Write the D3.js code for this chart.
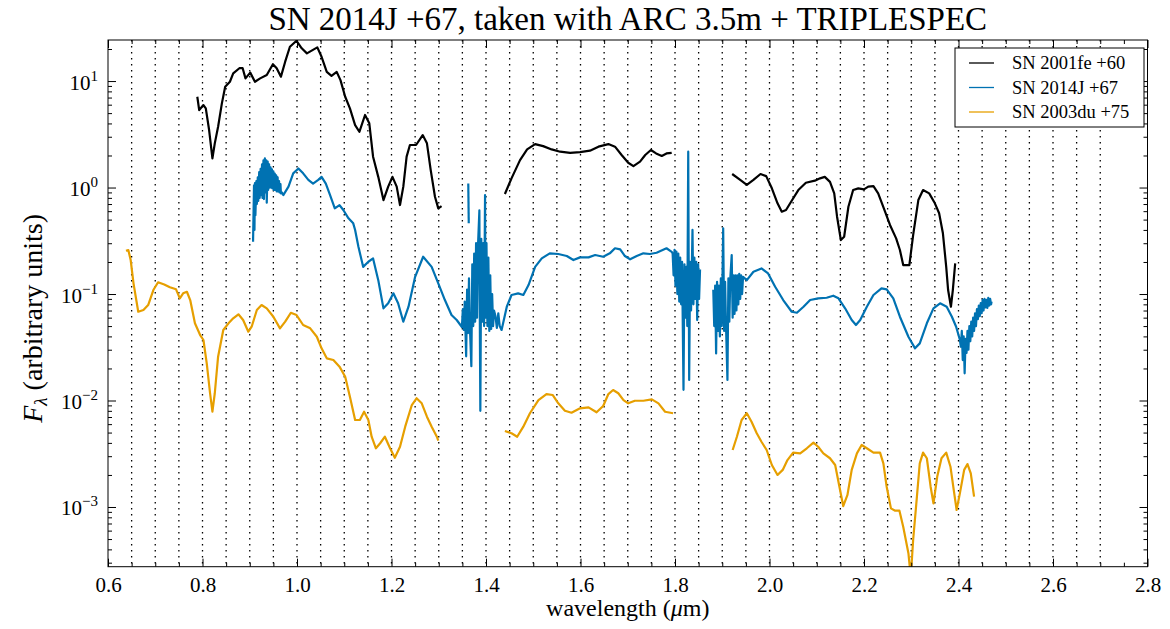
<!DOCTYPE html>
<html>
<head>
<meta charset="utf-8">
<script src="https://cdn.jsdelivr.net/npm/d3@7"></script>
<style>
  body { margin: 0; background: #fff; }
  svg { display: block; font-family: "Liberation Serif", "DejaVu Serif", serif; }
</style>
</head>
<body>
<svg id="chart" width="1170" height="629"></svg>
<script>
// ---- Spectra: [wavelength (um), F_lambda (arbitrary units)], one array per continuous segment ----
const sn2001fe = [
  [[0.789,7.12],[0.793,5.34],[0.802,5.95],[0.807,5.54],[0.814,3.47],[0.821,1.88],[0.826,2.60],[0.833,3.72],
   [0.841,6.17],[0.848,8.84],[0.858,9.85],[0.865,11.8],[0.878,13.2],[0.885,13.2],[0.891,10.6],[0.901,12.0],
   [0.911,9.85],[0.922,10.6],[0.936,11.4],[0.949,14.4],[0.957,13.2],[0.966,11.0],[0.975,15.2],[0.985,21.0],
   [0.999,23.9],[1.010,20.3],[1.021,18.2],[1.031,19.3],[1.043,20.7],[1.052,16.9],[1.063,12.2],[1.073,11.2],
   [1.084,12.2],[1.092,10.2],[1.102,7.12],[1.112,5.54],[1.123,3.86],[1.132,3.34],[1.144,4.80],[1.153,4.01],
   [1.161,1.95],[1.172,1.26],[1.183,0.763],[1.193,1.02],[1.202,1.26],[1.211,1.02],[1.218,0.685],[1.225,1.02],
   [1.232,1.95],[1.239,2.51],[1.252,2.51],[1.266,3.11],[1.275,2.60],[1.283,1.46],[1.292,0.820],[1.299,0.638],
   [1.306,0.670]],
  [[1.440,0.869],[1.454,1.22],[1.472,1.81],[1.487,2.28],[1.504,2.56],[1.521,2.45],[1.539,2.28],[1.557,2.17],
   [1.578,2.12],[1.599,2.15],[1.620,2.22],[1.638,2.42],[1.659,2.56],[1.673,2.42],[1.687,2.02],[1.701,1.71],
   [1.712,1.59],[1.726,1.75],[1.737,2.02],[1.749,2.25],[1.760,2.09],[1.772,1.98],[1.782,2.09],[1.793,2.12]],
  [[1.921,1.34],[1.938,1.18],[1.952,1.06],[1.966,1.18],[1.981,1.34],[1.993,1.28],[2.005,0.983],[2.017,0.711],
   [2.026,0.593],[2.035,0.615],[2.047,0.752],[2.061,0.947],[2.077,1.11],[2.096,1.16],[2.107,1.22],[2.117,1.26],
   [2.128,1.13],[2.137,0.882],[2.143,0.532],[2.151,0.321],[2.158,0.345],[2.167,0.660],[2.177,0.947],[2.188,0.983],
   [2.200,0.962],[2.209,1.02],[2.220,1.03],[2.230,0.882],[2.242,0.638],[2.255,0.445],[2.268,0.333],[2.276,0.259],
   [2.283,0.187],[2.296,0.187],[2.304,0.358],[2.315,0.763],[2.325,0.947],[2.338,0.882],[2.350,0.711],[2.359,0.573],
   [2.367,0.372],[2.374,0.180],[2.378,0.109],[2.384,0.076],[2.388,0.109],[2.393,0.194]]
];

const sn2014j = [
  [[0.907,0.31],[0.909,1.05],[0.910,0.40],[0.911,1.10],[0.912,0.55],[0.914,1.15],[0.915,0.70],[0.917,1.25],
   [0.918,0.75],[0.920,1.40],[0.921,0.80],[0.923,1.50],[0.924,0.85],[0.926,1.65],[0.927,0.80],[0.929,1.80],
   [0.930,0.78],[0.932,1.88],[0.933,0.90],[0.935,1.80],[0.936,0.72],[0.938,1.75],[0.939,0.95],[0.941,1.65],
   [0.942,1.00],[0.944,1.55],[0.945,1.00],[0.947,1.48],[0.948,0.98],[0.950,1.42],[0.951,0.95],[0.953,1.35],
   [0.954,0.95],[0.956,1.30],[0.957,0.92],[0.959,1.25],[0.960,0.92],[0.962,1.15],[0.963,0.90],[0.965,1.08],
   [0.966,0.88],[0.968,0.90],
   [0.971,0.850],[0.982,1.02],[0.992,1.36],[1.003,1.51],[1.013,1.36],[1.024,1.18],[1.034,1.09],[1.045,1.18],
   [1.052,1.26],[1.061,1.09],[1.070,0.850],[1.080,0.638],[1.090,0.685],[1.098,0.615],[1.109,0.514],[1.119,0.461],
   [1.123,0.399],[1.130,0.278],[1.140,0.180],[1.151,0.201],[1.161,0.216],[1.172,0.135],[1.183,0.0734],[1.193,0.0818],
   [1.204,0.1015],[1.214,0.0818],[1.225,0.055],[1.236,0.076],[1.250,0.145],[1.267,0.224],[1.285,0.180],[1.299,0.126],
   [1.313,0.0878],[1.327,0.0635],[1.338,0.057],
   [1.349,0.049],[1.351,0.072],[1.353,0.046],[1.355,0.085],[1.358,0.026],[1.360,0.11],[1.362,0.043],[1.364,0.14],
   [1.366,0.048],[1.369,0.021],[1.371,0.19],[1.373,0.05],[1.375,0.24],[1.377,0.055],[1.379,0.30],[1.381,0.06],
   [1.383,0.28],[1.386,0.61],[1.387,0.05],[1.388,0.008],[1.390,0.33],[1.392,0.055],[1.394,0.30],[1.396,0.05],
   [1.398,0.85],[1.399,0.06],[1.401,0.30],[1.403,0.05],[1.405,0.22],[1.407,0.045],[1.409,0.15],[1.411,0.047],
   [1.413,0.10],[1.415,0.05],[1.417,0.07],[1.420,0.062],[1.423,0.048],[1.426,0.066],[1.429,0.05],[1.433,0.046],
   [1.444,0.076],[1.454,0.0979],[1.468,0.1015],[1.479,0.098],[1.490,0.1215],[1.504,0.180],[1.518,0.216],[1.535,0.241],
   [1.553,0.2375],[1.571,0.2275],[1.585,0.2085],[1.599,0.221],[1.617,0.221],[1.631,0.2324],[1.648,0.224],[1.662,0.241],
   [1.673,0.269],[1.684,0.263],[1.694,0.2275],[1.705,0.212],[1.719,0.2275],[1.733,0.241],[1.747,0.2375],[1.761,0.244],
   [1.782,0.269],[1.793,0.249],
   [1.795,0.24],[1.797,0.15],[1.799,0.26],[1.801,0.12],[1.803,0.25],[1.805,0.10],[1.807,0.24],[1.809,0.085],
   [1.811,0.22],[1.813,0.08],[1.815,0.20],[1.818,0.0126],[1.820,0.19],[1.822,0.06],[1.824,0.18],[1.826,0.05],
   [1.828,2.17],[1.830,0.0156],[1.832,0.20],[1.834,0.07],[1.837,0.40],[1.839,0.08],[1.841,0.22],[1.843,0.09],
   [1.845,0.20],[1.847,0.057],[1.849,0.19],[1.851,0.09],[1.853,0.17]],
  [[1.3625,1.09],[1.3635,0.461]],
  [[1.881,0.11],[1.883,0.05],[1.885,0.12],[1.887,0.0277],[1.889,0.13],[1.891,0.045],[1.893,0.12],[1.895,0.04],
   [1.897,0.14],[1.899,0.05],[1.902,0.414],[1.904,0.045],[1.906,0.13],[1.908,0.05],[1.911,0.0156],[1.913,0.14],
   [1.915,0.055],[1.917,0.14],[1.920,0.232],[1.922,0.06],[1.924,0.15],[1.926,0.065],[1.928,0.15],[1.930,0.07],
   [1.932,0.15],[1.934,0.08],[1.936,0.155],[1.938,0.09],[1.940,0.15],[1.942,0.10],[1.944,0.145],
   [1.952,0.135],[1.966,0.162],[1.983,0.174],[1.997,0.156],[2.012,0.117],[2.029,0.0878],[2.047,0.0682],[2.058,0.0667],
   [2.072,0.076],[2.086,0.0878],[2.103,0.0911],[2.121,0.0923],[2.135,0.0964],[2.146,0.0911],[2.160,0.0734],[2.174,0.057],
   [2.183,0.0512],[2.192,0.057],[2.206,0.076],[2.220,0.0979],[2.237,0.113],[2.248,0.1107],[2.262,0.0911],[2.276,0.0612],
   [2.294,0.0397],[2.308,0.0309],[2.318,0.0344],[2.333,0.0531],[2.347,0.0734],[2.361,0.0818],[2.375,0.076],[2.386,0.0612],
   [2.395,0.0493],[2.403,0.037],
   [2.405,0.032],[2.407,0.045],[2.409,0.024],[2.411,0.040],[2.413,0.018],[2.415,0.038],[2.417,0.028],[2.419,0.045],
   [2.421,0.030],[2.423,0.050],[2.425,0.036],[2.427,0.055],[2.429,0.040],[2.431,0.060],[2.433,0.045],[2.435,0.066],
   [2.437,0.050],[2.439,0.072],[2.441,0.058],[2.443,0.078],[2.445,0.062],[2.447,0.082],[2.449,0.066],[2.451,0.088],
   [2.453,0.070],[2.455,0.090],[2.457,0.075],[2.459,0.088],[2.461,0.074],[2.463,0.092],[2.465,0.078],[2.467,0.090],
   [2.469,0.080],[2.470,0.085]]
];

const sn2003du = [
  [[0.638,0.255],[0.643,0.259],[0.648,0.2085],[0.654,0.126],[0.664,0.0682],[0.675,0.0708],[0.685,0.0788],[0.696,0.109],
   [0.706,0.129],[0.719,0.123],[0.731,0.1156],[0.744,0.1107],[0.752,0.0911],[0.759,0.1015],[0.767,0.105],[0.774,0.0878],
   [0.784,0.0531],[0.795,0.0412],[0.802,0.037],[0.809,0.0223],[0.816,0.0117],[0.821,0.00785],[0.826,0.0117],[0.833,0.0258],
   [0.844,0.0459],[0.855,0.0531],[0.865,0.0591],[0.876,0.0645],[0.886,0.057],[0.897,0.0443],[0.904,0.0493],[0.915,0.0708],
   [0.925,0.0788],[0.936,0.0734],[0.950,0.0612],[0.964,0.0476],[0.975,0.055],[0.987,0.0667],[0.999,0.0635],[1.013,0.0512],
   [1.028,0.0476],[1.042,0.0397],[1.052,0.0309],[1.063,0.0249],[1.077,0.024],[1.090,0.0208],[1.102,0.0167],[1.112,0.01085],
   [1.123,0.00656],[1.133,0.00656],[1.142,0.00785],[1.151,0.00656],[1.158,0.00457],[1.167,0.00356],[1.176,0.00397],[1.186,0.00457],
   [1.197,0.00356],[1.207,0.0029],[1.218,0.00368],[1.229,0.00568],[1.243,0.00907],[1.253,0.0105],[1.264,0.00941],[1.275,0.00705],
   [1.285,0.00568],[1.296,0.00457],[1.299,0.0042]],
  [[1.440,0.00517],[1.454,0.00492],[1.466,0.00457],[1.479,0.00568],[1.493,0.00759],[1.511,0.0101],[1.528,0.0115],[1.541,0.01127],
   [1.553,0.00941],[1.567,0.00802],[1.581,0.00768],[1.599,0.00845],[1.617,0.00863],[1.634,0.00775],[1.648,0.00888],[1.659,0.0115],
   [1.669,0.01255],[1.680,0.0117],[1.691,0.0101],[1.701,0.00941],[1.715,0.00995],[1.733,0.00995],[1.751,0.01026],[1.765,0.00941],
   [1.779,0.00785],[1.796,0.00759]],
  [[1.922,0.00343],[1.931,0.00457],[1.941,0.00656],[1.952,0.00759],[1.962,0.00632],[1.973,0.00492],[1.983,0.0041],[1.994,0.00343],
   [2.005,0.00248],[2.017,0.0020],[2.028,0.00223],[2.038,0.00276],[2.050,0.00324],[2.065,0.00319],[2.079,0.00356],[2.093,0.00402],
   [2.103,0.00368],[2.114,0.00319],[2.128,0.00287],[2.139,0.00248],[2.148,0.00155],[2.156,0.00102],[2.165,0.0013],[2.174,0.00223],
   [2.185,0.00319],[2.195,0.00382],[2.206,0.00356],[2.220,0.00324],[2.234,0.00324],[2.241,0.00257],[2.248,0.00155],[2.257,0.00097],
   [2.266,0.000923],[2.275,0.000923],[2.283,0.000653],[2.294,0.000368],[2.299,0.00022],[2.304,0.00049],[2.312,0.00125],[2.318,0.00257],
   [2.325,0.00324],[2.333,0.00287],[2.341,0.00155],[2.347,0.00108],[2.355,0.00193],[2.364,0.00287],[2.374,0.00324],[2.383,0.00239],
   [2.390,0.00144],[2.396,0.000937],[2.403,0.00135],[2.412,0.00223],[2.419,0.00253],[2.426,0.00207],[2.433,0.00125]]
];

// ---- Series, labels and ticks ----
const seriesNames  = ["SN 2001fe +60", "SN 2014J +67", "SN 2003du +75"];
const seriesColors = ["#000000", "#0072b2", "#e69f00"];
const seriesData   = [sn2001fe, sn2014j, sn2003du];

const xMajorTicks = [0.6, 0.8, 1.0, 1.2, 1.4, 1.6, 1.8, 2.0, 2.2, 2.4, 2.6, 2.8];
const yMajorTicks = [1e-3, 1e-2, 1e-1, 1e0, 1e1];
const yTickExponents = ["\u22123", "\u22122", "\u22121", "0", "1"];
const xDomain = [0.6, 2.8];
const yDomain = [2.75e-4, 24.3];

const titleText = "SN 2014J +67, taken with ARC 3.5m + TRIPLESPEC";

// ---- Layout ----
const W = 1170, H = 629;
const margin = { top: 40, right: 22.5, bottom: 62.3, left: 108 };
const innerW = W - margin.left - margin.right;
const innerH = H - margin.top - margin.bottom;

const svg = d3.select("#chart");
const g = svg.append("g").attr("transform", `translate(${margin.left},${margin.top})`);

const x = d3.scaleLinear().domain(xDomain).range([0, innerW]);
const y = d3.scaleLog().domain(yDomain).range([innerH, 0]);

// dotted vertical reference lines every 0.05 um
const markerLines = d3.range(0.65, 2.7001, 0.05);
g.append("g").selectAll("line").data(markerLines).join("line")
  .attr("x1", d => x(d)).attr("x2", d => x(d))
  .attr("y1", 0).attr("y2", innerH)
  .attr("stroke", "#000").attr("stroke-width", 1.3)
  .attr("stroke-dasharray", "1.5,4.5");

// spectra
g.append("clipPath").attr("id", "plotClip")
  .append("rect").attr("width", innerW).attr("height", innerH);

const line = d3.line().x(d => x(d[0])).y(d => y(d[1]));
const spectra = g.append("g").attr("clip-path", "url(#plotClip)");
seriesData.forEach((segments, i) => {
  spectra.append("g").selectAll("path").data(segments).join("path")
    .attr("d", line)
    .attr("fill", "none")
    .attr("stroke", seriesColors[i])
    .attr("stroke-width", 2.2)
    .attr("stroke-linejoin", "round");
});

// ---- Axes: inward ticks on all four sides ----
const xMinorTicks = d3.range(0.6, 2.8001, 0.05).filter(v => Math.abs(v / 0.2 - Math.round(v / 0.2)) > 1e-6);
const yAllTicks = y.ticks();
const yMinorTicks = yAllTicks.filter(v => Math.abs(Math.log10(v) - Math.round(Math.log10(v))) > 1e-6);

function styleAxis(sel) {
  sel.select(".domain").remove();
  sel.selectAll(".tick line").attr("stroke", "#000").attr("stroke-width", 1);
}

g.append("g").attr("transform", `translate(0,${innerH})`)
  .call(d3.axisBottom(x).tickValues(xMinorTicks).tickSize(-4).tickFormat("")).call(styleAxis);
g.append("g").attr("transform", `translate(0,${innerH})`)
  .call(d3.axisBottom(x).tickValues(xMajorTicks).tickSize(-8).tickFormat(d3.format(".1f")))
  .call(styleAxis)
  .call(a => a.selectAll(".tick text")
    .attr("y", 25).attr("dy", 0)
    .attr("font-size", 21).attr("font-family", "Liberation Serif").attr("fill", "#000"));
g.append("g")
  .call(d3.axisTop(x).tickValues(xMinorTicks).tickSize(-4).tickFormat("")).call(styleAxis);
g.append("g")
  .call(d3.axisTop(x).tickValues(xMajorTicks).tickSize(-8).tickFormat("")).call(styleAxis);

g.append("g").call(d3.axisLeft(y).tickValues(yMinorTicks).tickSize(-4).tickFormat("")).call(styleAxis);
const yMajor = g.append("g").call(d3.axisLeft(y).tickValues(yMajorTicks).tickSize(-8).tickFormat("")).call(styleAxis);
g.append("g").attr("transform", `translate(${innerW},0)`)
  .call(d3.axisRight(y).tickValues(yMinorTicks).tickSize(-4).tickFormat("")).call(styleAxis);
g.append("g").attr("transform", `translate(${innerW},0)`)
  .call(d3.axisRight(y).tickValues(yMajorTicks).tickSize(-8).tickFormat("")).call(styleAxis);

// decade labels 10^k
yMajor.selectAll(".tick").each(function(d) {
  const t = d3.select(this).append("text")
    .attr("x", -10).attr("y", 8)
    .attr("text-anchor", "end")
    .attr("font-size", 21).attr("fill", "#000")
    .attr("font-family", "Liberation Serif");
  t.append("tspan").text("10");
  t.append("tspan").attr("dy", -9).attr("font-size", 15).text(yTickExponents[yMajorTicks.indexOf(d)]);
});

// frame
g.append("rect").attr("width", innerW).attr("height", innerH)
  .attr("fill", "none").attr("stroke", "#000").attr("stroke-width", 1);

// ---- Text ----
svg.append("text")
  .attr("x", margin.left + innerW / 2).attr("y", 30)
  .attr("text-anchor", "middle").attr("font-size", 33).attr("fill", "#000")
  .text(titleText);

const xl = svg.append("text")
  .attr("x", margin.left + innerW / 2).attr("y", 616)
  .attr("text-anchor", "middle").attr("font-size", 24).attr("fill", "#000");
xl.append("tspan").text("wavelength (");
xl.append("tspan").attr("font-style", "italic").text("\u03bc");
xl.append("tspan").text("m)");

const yl = svg.append("text")
  .attr("transform", `translate(42,${margin.top + innerH / 2 + 15}) rotate(-90)`)
  .attr("text-anchor", "middle").attr("font-size", 28).attr("fill", "#000");
yl.append("tspan").attr("font-style", "italic").text("F");
yl.append("tspan").attr("font-style", "italic").attr("font-size", 19).attr("dy", 5).text("\u03bb");
yl.append("tspan").attr("dy", -5).text(" (arbitrary units)");

// ---- Legend ----
const legend = svg.append("g").attr("transform", "translate(955,48)");
legend.append("rect").attr("width", 189).attr("height", 79)
  .attr("fill", "#fff").attr("stroke", "#000").attr("stroke-width", 1);
seriesNames.forEach((name, i) => {
  const row = legend.append("g").attr("transform", `translate(0,${15 + i * 24.5})`);
  row.append("line").attr("x1", 14).attr("x2", 39).attr("y1", 0).attr("y2", 0)
    .attr("stroke", seriesColors[i]).attr("stroke-width", 1.3);
  row.append("text").attr("x", 57).attr("y", 6)
    .attr("font-size", 18.5).attr("fill", "#000").text(name);
});
</script>
</body>
</html>
